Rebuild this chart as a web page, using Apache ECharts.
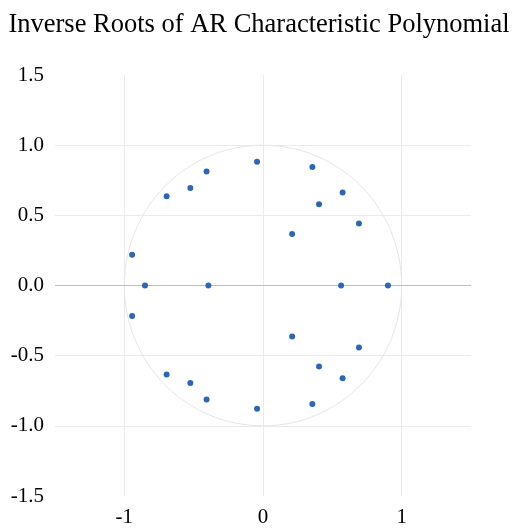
<!DOCTYPE html>
<html>
<head>
<meta charset="utf-8">
<script src="https://cdn.jsdelivr.net/npm/echarts@6/dist/echarts.min.js"></script>
<style>
html,body{margin:0;padding:0;background:#fff;}
#chart{width:518px;height:529px;}
</style>
</head>
<body>
<div id="chart"></div>
<script>
var titleText = 'Inverse Roots of AR Characteristic Polynomial';
// real and imaginary parts of the inverse roots
var rootsRe = [-0.944, -0.695, -0.524, -0.407, -0.043, 0.210, 0.356, 0.404, 0.574, 0.692,
               -0.851, -0.394, 0.563, 0.901,
               -0.944, -0.695, -0.524, -0.407, -0.043, 0.210, 0.356, 0.404, 0.574, 0.692];
var rootsIm = [0.220, 0.636, 0.695, 0.813, 0.882, 0.367, 0.844, 0.579, 0.662, 0.442,
               0, 0, 0, 0,
               -0.218, -0.635, -0.694, -0.813, -0.879, -0.363, -0.844, -0.578, -0.661, -0.441];
// unit circle: center x, center y, radius
var unitCircle = [[0, 0, 1]];
var xTicks = [-1, 0, 1];
var yTicks = [-1.5, -1.0, -0.5, 0.0, 0.5, 1.0, 1.5];

var points = rootsRe.map(function (r, i) { return [r, rootsIm[i]]; });
var font = "'Liberation Serif', 'Times New Roman', serif";

var chart = echarts.init(document.getElementById('chart'));
chart.setOption({
  animation: false,
  backgroundColor: '#fff',
  title: {
    text: titleText,
    left: 'center',
    top: 7,
    textStyle: { fontFamily: font, fontSize: 26.5, fontWeight: 'normal', color: '#000' }
  },
  grid: { left: 55, right: 47, top: 75, bottom: 33, containLabel: false },
  xAxis: {
    type: 'value',
    min: -1.5, max: 1.5, interval: 0.5,
    axisLine: { show: false },
    axisTick: { show: false },
    axisLabel: {
      fontFamily: font, fontSize: 21, color: '#000', margin: 11,
      formatter: function (v) { return xTicks.indexOf(v) >= 0 ? String(v) : ''; }
    },
    splitLine: {
      show: true,
      showMinLine: true, showMaxLine: true,
      lineStyle: { color: ['rgba(0,0,0,0)', '#ebebeb'], width: 1 }
    }
  },
  yAxis: {
    type: 'value',
    min: -1.5, max: 1.5, interval: 0.5,
    axisLine: { show: false },
    axisTick: { show: false },
    axisLabel: {
      fontFamily: font, fontSize: 21, color: '#000', margin: 11,
      formatter: function (v) { return v.toFixed(1); }
    },
    splitLine: {
      show: true, showMinLine: false, showMaxLine: false,
      lineStyle: { color: '#ebebeb', width: 1 }
    }
  },
  series: [
    {
      type: 'custom',
      silent: true,
      z: 1,
      data: unitCircle,
      renderItem: function (params, api) {
        var c = api.coord([api.value(0), api.value(1)]);
        var s = api.size([api.value(2), api.value(2)]);
        return {
          type: 'ellipse',
          shape: { cx: c[0], cy: c[1], rx: s[0], ry: s[1] },
          style: { fill: 'none', stroke: '#e6e6e6', lineWidth: 1 }
        };
      }
    },
    {
      type: 'scatter',
      z: 3,
      symbolSize: 6,
      itemStyle: { color: '#2f66b4', opacity: 1 },
      data: points,
      markLine: {
        silent: true,
        symbol: 'none',
        label: { show: false },
        lineStyle: { color: '#bdbdbd', type: 'solid', width: 1 },
        data: [{ yAxis: 0 }],
        z: 2
      }
    }
  ]
});
</script>
</body>
</html>
